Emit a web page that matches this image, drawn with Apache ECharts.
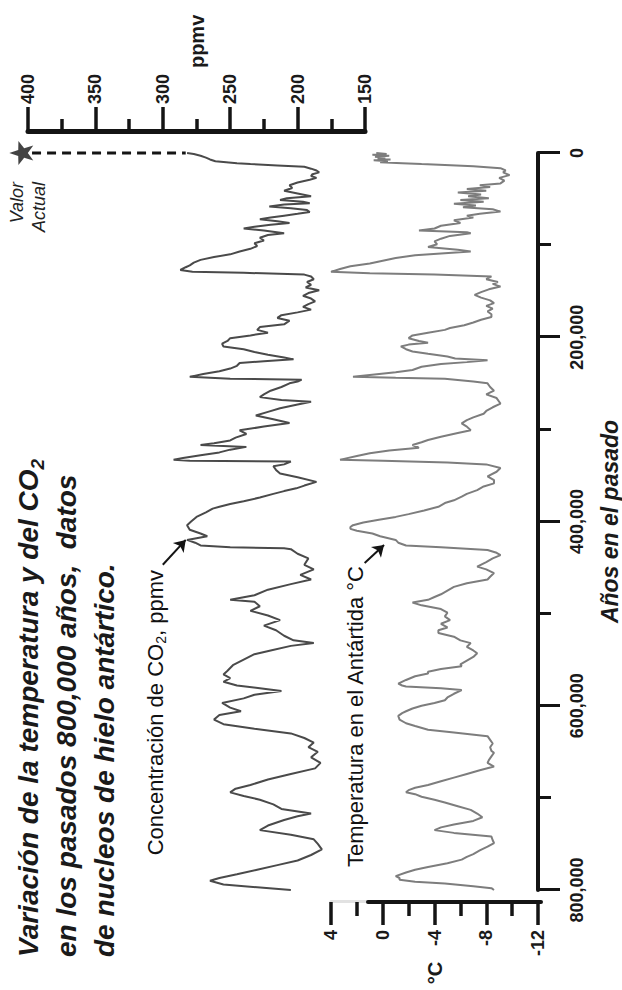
<!DOCTYPE html>
<html><head><meta charset="utf-8">
<script src="https://cdn.jsdelivr.net/npm/echarts@6/dist/echarts.min.js"></script>
<style>
html,body{margin:0;padding:0;background:#fff;overflow:hidden;width:622px;height:990px}
#chart{position:absolute;left:0;top:0;width:990px;height:622px;transform-origin:0 0;transform:translate(0,990px) rotate(-90deg);}
</style></head><body><div id="chart"></div>
<script>
// time in thousands of years before present
const co2Years = [0,1,3,5,7,9,11,12,13.5,15,17,19,21,23,25,27,29,32,35,38,41,44,47,49,51,53,54.5,56,58,60,62,64,66,68,70,72,74,76,78,80,82,84,87,89,92,95,98,101,104,107,110,113,116,119,122,124,127,129,130,132,134,137,140,143,146,149,152,155,158,161,164,167,170,173,176,179,182,186,189,192,195,198,201,204,207,210,213,216,219,222,224,226,228,231,234,237,240,243,245,246,248,250,254,258,262,265,268,270,273,277,281,285,289,293,297,301,305,309,312,315,317,319,322,325,328,331,333,334,335,338,340,344,348,352,357,361,364,367,370,374,378,381,384,386,390,395,400,404,409,413,416,420,423,426,428,429,430,435,440,447,452,458,463,468,474,480,485,487,492,497,502,507,513,518,524,529,532,535,540,544,550,556,562,566,570,574,578,581,584,588,592,597,602,606,610,615,620,625,630,635,640,645,650,656,662,668,674,680,686,690,694,698,702,707,712,717,720,724,730,735,740,745,750,756,762,768,773,778,783,787,790,794,797,800];
const co2Values = [282,277,272,268,265,261,245,235,215,195,190,186,184,189,190,186,191,200,206,204,210,200,190,208,213,196,191,210,221,205,193,191,200,210,220,228,215,206,220,232,240,225,210,222,228,225,232,230,235,243,250,262,272,277,280,283,287,278,240,195,190,188,193,190,194,184,192,196,190,187,192,196,190,200,212,215,206,210,228,230,222,235,250,252,256,255,240,232,222,210,203,225,243,245,250,258,270,280,250,197,200,206,212,220,225,228,212,190,200,213,222,231,218,206,225,243,238,246,250,262,272,238,250,258,272,285,292,280,205,210,218,216,213,200,186,195,201,210,218,228,240,250,258,263,268,275,279,282,280,272,267,282,276,272,250,210,205,200,192,195,188,198,190,205,222,232,250,232,228,235,222,213,225,216,210,203,188,205,220,232,240,248,252,255,250,255,245,228,212,232,240,256,250,242,258,262,255,232,205,195,188,192,185,190,183,187,205,222,235,246,250,240,228,218,212,190,200,210,222,228,205,188,185,182,190,200,215,230,245,258,265,255,230,205,190];
const tempYears = [0,1,2,3,4,5,6,7,8,9,10,11,12,13,14.5,16.5,19,21,24,27,30,33,35,37,39,41,43,45,47,49,51,53,55,57,59,61,63.6,66,68,70,73,76,79,82,84,86,87,90,93,96,99,102,105,107,109,111,114,117,120,123,126,129,130.5,132,134,137,140,142,145,148,151,154,157,160,163,166,169,172,175,178,181,184,187,190,192,195,198,201,204,206,208,210,213,215.5,218,221,223,225,227,229,232,235.5,238,241,243,244,245,248,250,254,258,262,266,270,272,276,280,283,287,290,293.5,297,301,304,308,311.6,314,317,320,323,326,329,332,333,334,336,338,342,346,351,355,358.6,362,366,370,373,377,380,384,388,392,395,398,401,404,406,408,410,413,416,420,423,426,428,431,434,436.5,440,444,449,452,456,460,463,467,471,475,479,482,485,488,491,495,499,503,507,511,515,518,521,525,529,532,536,540,543,547,551,555,557,560,563,565,568,572,576,578,579,581,583,587,591,594,597,600,603,606,608,611,615,619,622,626,629,633,637,641,645,649,651,655,659,662,666,670,674,678,682,686,689,691.6,694,696,698.8,702,705,709,713,717,721,725,729,732,735,738,742,746,749,753,757,761,764,767,771,775,778,781,785,787,789,791,793,796,798,800];
const tempValues = [0.5,-0.3,0.8,-0.5,0.6,-0.2,0.4,-0.6,0.7,-0.4,0.2,-1.5,-3.0,-4.8,-7.0,-9.1,-9.5,-9.3,-9.8,-9.0,-9.4,-9.1,-7.5,-8.3,-6.5,-8.0,-5.8,-7.6,-6.6,-8.2,-6.0,-7.8,-5.5,-7.2,-6.2,-8.5,-9.1,-7.5,-6.5,-7.0,-5.5,-6.0,-4.5,-4.0,-2.8,-6.5,-6.8,-5.2,-4.5,-4.0,-4.2,-3.5,-5.8,-6.8,-4.5,-2.5,-1.0,0.0,1.0,2.5,3.3,4.0,1.0,-4.0,-8.4,-8.0,-8.9,-8.5,-9.1,-8.2,-7.6,-7.1,-7.6,-8.3,-8.6,-8.0,-8.5,-8.1,-8.4,-8.4,-7.6,-7.0,-6.3,-5.2,-4.8,-3.5,-2.3,-2.0,-2.8,-3.5,-2.0,-1.4,-1.8,-2.3,-3.5,-5.0,-5.6,-8.1,-6.5,-4.5,-3.0,-2.3,-1.0,1.0,2.3,-1.0,-4.8,-7.0,-8.1,-8.3,-8.6,-8.0,-8.8,-9.0,-9.1,-8.5,-8.0,-7.8,-7.0,-6.5,-6.1,-6.5,-6.8,-5.8,-4.5,-3.5,-3.0,-2.3,-2.8,-0.5,1.0,2.0,3.0,3.3,0.0,-5.0,-8.0,-9.1,-8.8,-8.1,-8.6,-8.6,-7.8,-7.3,-6.5,-6.1,-5.5,-4.8,-4.3,-3.2,-2.0,-1.0,0.3,1.5,2.3,2.5,2.5,2.0,0.8,0.2,-1.0,-1.2,-1.8,-4.5,-8.1,-8.8,-9.1,-8.5,-8.0,-7.3,-8.0,-8.6,-8.3,-8.1,-6.5,-5.5,-5.0,-4.5,-4.0,-3.5,-2.3,-3.0,-4.5,-5.0,-4.8,-5.2,-4.5,-5.0,-4.3,-4.3,-5.5,-6.0,-6.8,-6.5,-7.0,-7.3,-7.0,-6.5,-6.0,-6.1,-4.5,-3.5,-3.5,-2.5,-1.8,-1.2,-1.5,-1.8,-4.5,-6.1,-5.5,-5.0,-4.8,-4.0,-3.0,-2.3,-1.8,-1.5,-1.2,-1.3,-1.8,-2.5,-3.5,-5.5,-8.1,-8.3,-8.5,-8.3,-8.4,-8.6,-8.4,-8.2,-8.1,-8.6,-7.5,-6.5,-5.5,-4.5,-3.5,-2.5,-2.0,-1.8,-2.5,-3.0,-4.0,-4.8,-5.8,-6.8,-7.3,-7.7,-7.0,-5.5,-4.5,-4.0,-5.5,-8.4,-8.5,-8.6,-8.1,-7.5,-7.0,-6.5,-6.1,-5.0,-3.5,-2.5,-1.8,-1.0,-1.3,-1.3,-2.5,-4.8,-7.0,-8.4,-8.6];
const presentYear = [0];
const presentCO2 = [405];
const dashCO2 = [397, 283];
const co2ArrowYears = [447, 420];
const co2ArrowValues = [300, 283];
const tempArrowYears = [445, 425.5];
const tempArrowValues = [1.4, -0.1];
const yearTicks = [0, 200000, 400000, 600000, 800000];

const FONT = '"Liberation Sans", Arial, sans-serif';
const co2Data = co2Years.map((y, i) => [y * 1000, co2Values[i]]);
const tempData = tempYears.map((y, i) => [y * 1000, tempValues[i]]);
const dashData = dashCO2.map(v => [presentYear[0] * 1000, v]);
const starData = presentYear.map((y, i) => [y * 1000, presentCO2[i]]);
const arrowLine = (ys, vs) => [[{coord: [ys[0] * 1000, vs[0]]}, {coord: [ys[1] * 1000, vs[1]]}]];
const star = 'path://M0,-10 L2.35,-3.24 L9.51,-3.09 L3.8,1.24 L5.88,8.09 L0,4 L-5.88,8.09 L-3.8,1.24 L-9.51,-3.09 L-2.35,-3.24 Z';
const black = '#141414';
const tickLabel = {fontSize: 18, fontWeight: 'bold', color: '#1a1a1a', fontFamily: FONT};

const chart = echarts.init(document.getElementById('chart'), null, {renderer: 'svg'});
chart.setOption({
  animation: false,
  backgroundColor: '#fff',
  textStyle: {fontFamily: FONT},
  title: {
    left: 28, top: 4,
    text: '{a|Variación de la temperatura y del CO}{s|2}\n{a|en los pasados 800,000 años,  datos}\n{a|de nucleos de hielo antártico.}',
    textStyle: {
      rich: {
        a: {fontFamily: FONT, fontSize: 28, fontWeight: 'bold', fontStyle: 'italic', color: '#1a1a1a', lineHeight: 38},
        s: {fontFamily: FONT, fontSize: 19, fontWeight: 'bold', fontStyle: 'italic', color: '#1a1a1a', lineHeight: 12, verticalAlign: 'bottom'}
      }
    }
  },
  grid: [
    {left: 100, right: 153, top: 28, height: 337},
    {left: 100, right: 153, top: 331, height: 210},
    {left: 100, right: 153, top: 368, height: 173}
  ],
  xAxis: [
    {gridIndex: 0, type: 'value', min: 0, max: 800000, inverse: true, show: false},
    {gridIndex: 1, type: 'value', min: 0, max: 800000, interval: 200000, inverse: true, position: 'bottom',
     axisLine: {show: true, onZero: false, lineStyle: {color: black, width: 4}},
     axisTick: {show: true, length: 22, lineStyle: {color: black, width: 3}},
     minorTick: {show: true, splitNumber: 2, length: 13, lineStyle: {color: black, width: 3}},
     splitLine: {show: false},
     axisLabel: Object.assign({margin: 30,
       formatter: v => yearTicks.includes(v) ? (v === 0 ? '0' : v.toLocaleString('en-US')) : ''}, tickLabel),
     name: 'Años en el pasado', nameLocation: 'middle', nameGap: 60,
     nameTextStyle: {fontSize: 23, fontWeight: 'bold', fontStyle: 'italic', color: '#1a1a1a', fontFamily: FONT}},
    {gridIndex: 2, type: 'value', min: 0, max: 800000, inverse: true, show: false}
  ],
  yAxis: [
    {gridIndex: 0, type: 'value', min: 150, max: 400, interval: 50, position: 'right', offset: 21,
     axisLine: {show: true, onZero: false, lineStyle: {color: black, width: 5}},
     axisTick: {show: true, length: 25, lineStyle: {color: black, width: 3.5}},
     minorTick: {show: true, splitNumber: 2, length: 13, lineStyle: {color: black, width: 3.5}},
     splitLine: {show: false},
     axisLabel: Object.assign({margin: 28}, tickLabel),
     name: 'ppmv', nameLocation: 'middle', nameRotate: 0, nameGap: 57,
     nameTextStyle: {fontSize: 20, fontWeight: 'bold', color: '#1a1a1a', fontFamily: FONT}},
    {gridIndex: 1, type: 'value', min: -12, max: 4, interval: 4, position: 'left', offset: 12,
     axisLine: {show: true, onZero: false, lineStyle: {color: '#e2e2e2', width: 3}},
     axisTick: {show: true, length: 23, lineStyle: {color: black, width: 3.5}},
     minorTick: {show: true, splitNumber: 2, length: 14, lineStyle: {color: black, width: 3.5}},
     splitLine: {show: false},
     axisLabel: Object.assign({margin: 28}, tickLabel),
     name: '°C', nameLocation: 'middle', nameRotate: 0, nameGap: 53,
     nameTextStyle: {fontSize: 20, fontWeight: 'bold', color: '#1a1a1a', fontFamily: FONT}},
    {gridIndex: 2, type: 'value', min: 0, max: 1, position: 'left', offset: 12,
     axisLine: {show: true, onZero: false, lineStyle: {color: black, width: 4}},
     axisTick: {show: false}, axisLabel: {show: false}, splitLine: {show: false}}
  ],
  graphic: [
    {type: 'text', x: 808, y: 6, style: {text: 'Valor\nActual', align: 'right', font: 'italic 18px ' + FONT, fill: '#222', lineHeight: 22}},
    {type: 'text', x: 420, y: 155, style: {
      text: '{a|Concentración de CO}{s|2}{a|, ppmv}', align: 'right', verticalAlign: 'middle',
      rich: {a: {fontFamily: FONT, fontSize: 22, fill: '#111', lineHeight: 26},
             s: {fontFamily: FONT, fontSize: 14, fill: '#111', lineHeight: 11, verticalAlign: 'bottom'}}}},
    {type: 'text', x: 424, y: 355, style: {
      text: 'Temperatura en el Antártida °C', align: 'right', verticalAlign: 'middle',
      font: '22px ' + FONT, fill: '#111'}}
  ],
  series: [
    {type: 'line', name: 'CO2', xAxisIndex: 0, yAxisIndex: 0, data: co2Data, showSymbol: false,
     lineStyle: {color: '#4a4a4a', width: 2}, z: 3,
     markLine: {silent: true, symbol: ['none', 'arrow'], symbolSize: 11, animation: false,
       lineStyle: {color: black, width: 2, type: 'solid'}, label: {show: false},
       data: arrowLine(co2ArrowYears, co2ArrowValues)}},
    {type: 'line', name: 'Temperatura', xAxisIndex: 1, yAxisIndex: 1, data: tempData, showSymbol: false,
     lineStyle: {color: '#7d7d7d', width: 2}, z: 3,
     markLine: {silent: true, symbol: ['none', 'arrow'], symbolSize: 11, animation: false,
       lineStyle: {color: black, width: 2, type: 'solid'}, label: {show: false},
       data: arrowLine(tempArrowYears, tempArrowValues)}},
    {type: 'line', name: 'Valor actual', xAxisIndex: 0, yAxisIndex: 0, data: dashData, showSymbol: false,
     lineStyle: {color: black, width: 3, type: [9, 6]}},
    {type: 'scatter', name: 'Estrella', xAxisIndex: 0, yAxisIndex: 0, data: starData, symbol: star,
     symbolSize: 24, clip: false, itemStyle: {color: black}}
  ]
});
</script></body></html>
